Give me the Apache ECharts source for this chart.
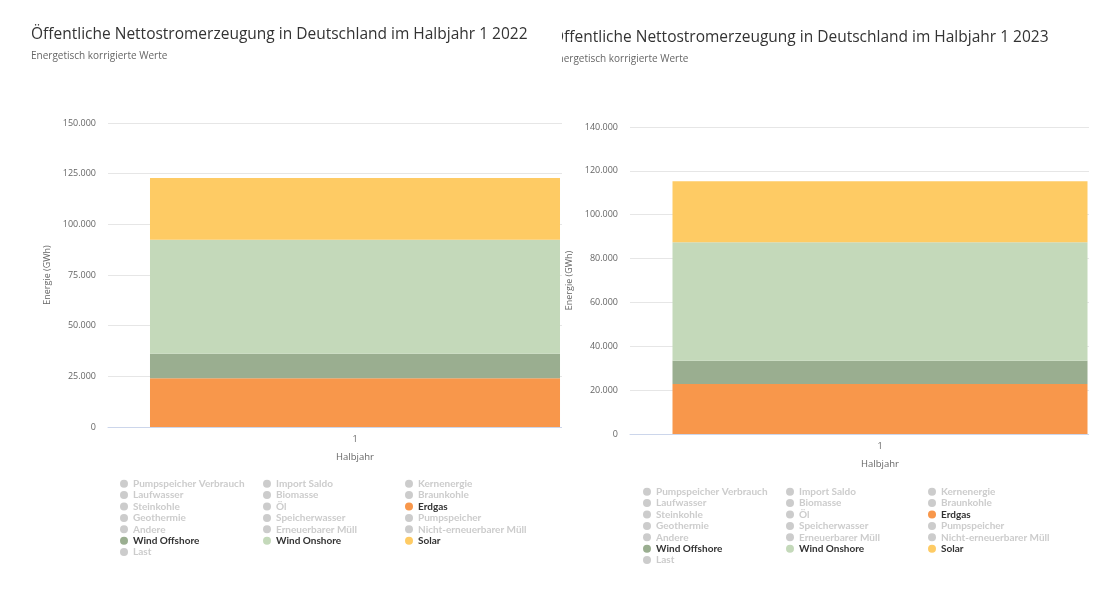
<!DOCTYPE html>
<html>
<head>
<meta charset="utf-8">
<script src="https://cdn.jsdelivr.net/npm/echarts@6/dist/echarts.min.js"></script>
<style>
  html, body { margin: 0; padding: 0; background: #fff; }
  .outer { position: absolute; top: 0; height: 615px; overflow: hidden; background: #fff; }
  .inner { position: absolute; top: 0; height: 615px; }
</style>
</head>
<body>
<div class="outer" id="o1" style="left:0;width:562px;"><div class="inner" id="c1" style="left:0;width:640px;"></div></div>
<div class="outer" id="o2" style="left:562px;width:527px;"><div class="inner" id="c2" style="left:-10px;width:600px;"></div></div>
<script>
// ---------- data ----------
const categories = ['1'];
const legendCol1 = ['Pumpspeicher Verbrauch', 'Laufwasser', 'Steinkohle', 'Geothermie', 'Andere', 'Wind Offshore', 'Last'];
const legendCol2 = ['Import Saldo', 'Biomasse', 'Öl', 'Speicherwasser', 'Erneuerbarer Müll', 'Wind Onshore'];
const legendCol3 = ['Kernenergie', 'Braunkohle', 'Erdgas', 'Pumpspeicher', 'Nicht-erneuerbarer Müll', 'Solar'];
const visibleSeries = ['Erdgas', 'Wind Offshore', 'Wind Onshore', 'Solar'];

// values in GWh, half year 1
const erdgas2022 = [24000];
const windOffshore2022 = [12200];
const windOnshore2022 = [56200];
const solar2022 = [30500];

const erdgas2023 = [22800];
const windOffshore2023 = [10600];
const windOnshore2023 = [54100];
const solar2023 = [27800];

const yTicks2022 = { max: 150000, interval: 25000 };
const yTicks2023 = { max: 140000, interval: 20000 };

const titles = ['Öffentliche Nettostromerzeugung in Deutschland im Halbjahr 1 2022',
                'Öffentliche Nettostromerzeugung in Deutschland im Halbjahr 1 2023'];
const subtitle = 'Energetisch korrigierte Werte';

// ---------- styling ----------
const colors = {
  'Erdgas': '#f8974b',
  'Wind Offshore': '#9aae90',
  'Wind Onshore': '#c4d9ba',
  'Solar': '#fecb64'
};
const FONT = '"Open Sans", sans-serif';
const LEGEND_FONT = 'Lato, sans-serif';

function fmt(v) {
  return String(v).replace(/\B(?=(\d{3})+(?!\d))/g, '.');
}

function buildOption(cfg) {
  const allNames = legendCol1.concat(legendCol2, legendCol3);
  const selected = {};
  allNames.forEach(n => { selected[n] = visibleSeries.indexOf(n) >= 0; });
  const valueMap = {
    'Erdgas': cfg.erdgas, 'Wind Offshore': cfg.offshore,
    'Wind Onshore': cfg.onshore, 'Solar': cfg.solar
  };
  // stacking order bottom -> top
  const order = ['Erdgas', 'Wind Offshore', 'Wind Onshore', 'Solar'];
  const hidden = allNames.filter(n => order.indexOf(n) < 0);
  const series = order.concat(hidden).map(n => ({
    name: n,
    type: 'bar',
    stack: 'total',
    barWidth: '83%',
    data: valueMap[n] ? valueMap[n] : [],
    itemStyle: { color: colors[n] || '#ccc' },
    emphasis: { disabled: true }
  }));
  const legendBase = {
    orient: 'vertical',
    icon: 'circle',
    itemWidth: 8,
    itemHeight: 8,
    itemGap: 0,
    padding: 0,
    inactiveColor: '#cccccc',
    selected: selected,
    textStyle: { fontFamily: LEGEND_FONT, fontSize: 10, fontWeight: 'bold', color: '#333', lineHeight: 11.4, padding: [0, 0, 0, 0] }
  };
  const legends = [legendCol1, legendCol2, legendCol3].map((col, i) => Object.assign({}, legendBase, {
    data: col, left: cfg.legendLeft[i], top: cfg.legendTop
  }));
  return {
    animation: false,
    title: {
      text: cfg.title,
      subtext: subtitle,
      left: cfg.titleLeft,
      top: cfg.titleTop,
      padding: 0,
      itemGap: cfg.subGap,
      textStyle: { fontFamily: FONT, fontSize: 15.5, fontWeight: 'normal', color: '#333' },
      subtextStyle: { fontFamily: FONT, fontSize: 10, color: '#666' }
    },
    legend: legends,
    grid: { left: cfg.gridLeft, right: cfg.gridRight, top: cfg.gridTop, height: cfg.gridHeight, containLabel: false },
    xAxis: {
      type: 'category',
      data: categories,
      name: 'Halbjahr',
      nameLocation: 'middle',
      nameGap: 25,
      nameTextStyle: { fontFamily: FONT, fontSize: 9.5, color: '#666' },
      axisLine: { lineStyle: { color: '#ccd6eb' } },
      axisTick: { show: false },
      axisLabel: { fontFamily: FONT, fontSize: 9, color: '#666', margin: 8 }
    },
    yAxis: {
      type: 'value',
      min: 0,
      max: cfg.yTicks.max,
      interval: cfg.yTicks.interval,
      name: 'Energie (GWh)',
      nameLocation: 'middle',
      nameGap: 52,
      nameRotate: 90,
      nameTextStyle: { fontFamily: FONT, fontSize: 9, color: '#666' },
      axisLine: { show: false },
      axisTick: { show: false },
      splitLine: { lineStyle: { color: '#e6e6e6' } },
      axisLabel: { fontFamily: FONT, fontSize: 9, color: '#666', margin: 12, formatter: fmt }
    },
    series: series
  };
}

const chart1 = echarts.init(document.getElementById('c1'));
chart1.setOption(buildOption({
  title: titles[0], titleLeft: 31, titleTop: 27, subGap: 8,
  erdgas: erdgas2022, offshore: windOffshore2022, onshore: windOnshore2022, solar: solar2022,
  yTicks: yTicks2022,
  gridLeft: 108, gridRight: 38, gridTop: 123, gridHeight: 304,
  legendLeft: [120, 263, 405], legendTop: 478
}));

const chart2 = echarts.init(document.getElementById('c2'));
chart2.setOption(buildOption({
  title: titles[1], titleLeft: 0, titleTop: 30, subGap: 8,
  erdgas: erdgas2023, offshore: windOffshore2023, onshore: windOnshore2023, solar: solar2023,
  yTicks: yTicks2023,
  gridLeft: 78, gridRight: 22, gridTop: 127, gridHeight: 307,
  legendLeft: [91, 234, 376], legendTop: 486
}));
</script>
</body>
</html>
